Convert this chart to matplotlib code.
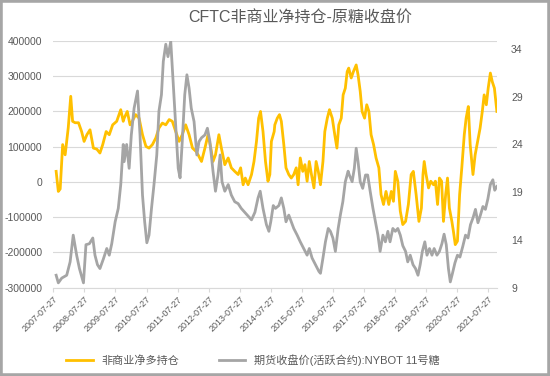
import matplotlib
matplotlib.use("Agg")
import matplotlib.pyplot as plt
from matplotlib.patches import Rectangle

plt.rcParams['font.family'] = ['Liberation Sans', 'Noto Sans CJK SC', 'DejaVu Sans']

# CFTC non-commercial net long (thousand contracts), x in decimal years
pos_t = [2007.66, 2007.73, 2007.79, 2007.87, 2007.95, 2008.00, 2008.05, 2008.13, 2008.19, 2008.27,
         2008.38, 2008.48, 2008.56, 2008.65, 2008.75, 2008.86, 2008.97, 2009.07, 2009.16, 2009.27,
         2009.37, 2009.48, 2009.61, 2009.74, 2009.82, 2009.85, 2009.95, 2010.04, 2010.11, 2010.22,
         2010.33, 2010.44, 2010.55, 2010.65, 2010.76, 2010.87, 2010.97, 2011.08, 2011.19, 2011.30,
         2011.40, 2011.51, 2011.62, 2011.72, 2011.83, 2011.94, 2012.05, 2012.16, 2012.23, 2012.34,
         2012.45, 2012.55, 2012.64, 2012.71, 2012.79, 2012.90, 2012.98, 2013.09, 2013.20, 2013.30,
         2013.41, 2013.52, 2013.60, 2013.68, 2013.75, 2013.84, 2013.95, 2014.03, 2014.11, 2014.18,
         2014.24, 2014.32, 2014.40, 2014.48, 2014.54, 2014.59, 2014.68, 2014.70, 2014.78, 2014.85,
         2014.91, 2014.99, 2015.06, 2015.15, 2015.23, 2015.31, 2015.39, 2015.45, 2015.52, 2015.60,
         2015.67, 2015.74, 2015.81, 2015.88, 2015.96, 2016.03, 2016.10, 2016.17, 2016.25, 2016.31,
         2016.39, 2016.46, 2016.55, 2016.63, 2016.70, 2016.76, 2016.84, 2016.90, 2016.97, 2017.03,
         2017.08, 2017.16, 2017.23, 2017.32, 2017.38, 2017.45, 2017.51, 2017.59, 2017.66, 2017.73,
         2017.80, 2017.88, 2017.96, 2018.05, 2018.12, 2018.20, 2018.28, 2018.37, 2018.45, 2018.52,
         2018.58, 2018.66, 2018.74, 2018.82, 2018.91, 2019.00, 2019.09, 2019.16, 2019.25, 2019.34,
         2019.42, 2019.47, 2019.51, 2019.57, 2019.65, 2019.72, 2019.81, 2019.87, 2019.94, 2020.00,
         2020.07, 2020.13, 2020.20, 2020.26, 2020.32, 2020.40, 2020.45, 2020.51, 2020.58, 2020.65,
         2020.72, 2020.80, 2020.86, 2020.93, 2020.99, 2021.08, 2021.15, 2021.23, 2021.31, 2021.38,
         2021.44, 2021.51, 2021.57, 2021.64, 2021.70, 2021.77, 2021.85]
net_long = [30, -27, -20, 106, 77, 115, 154, 243, 172, 168,
            168, 143, 115, 134, 148, 96, 93, 82, 106, 143,
            134, 162, 172, 205, 172, 181, 200, 162, 172, 191,
            181, 134, 101, 96, 106, 125, 153, 167, 162, 177,
            172, 143, 115, 134, 162, 134, 96, 87, 77, 58,
            96, 134, 96, 58, 77, 134, 96, 49, 68, 40,
            30, 21, 40, -8, 11, -8, 21, 58, 115, 181,
            200, 143, 58, 2, 21, 115, 143, 162, 181, 191,
            172, 106, 40, 21, 11, 21, 40, -8, 68, 30,
            49, 2, 58, 21, -17, 58, 30, -8, 58, 143,
            181, 205, 181, 134, 96, 162, 181, 247, 266, 313,
            323, 295, 313, 332, 304, 257, 200, 181, 219, 200,
            134, 106, 68, 40, -36, -64, -27, -64, -27, -55,
            30, 2, -83, -121, -112, -64, 21, 30, -36, -112,
            -74, 21, 58, 21, -17, 2, -8, 2, -64, 11,
            2, -112, -36, 11, -74, -112, -140, -178, -168, -36,
            40, 134, 181, 214, 106, 21, 77, 115, 153, 200,
            247, 219, 266, 309, 285, 266, 200]

# NYBOT No.11 sugar, front-month close (cents/lb)
px_t = [2007.66, 2007.73, 2007.84, 2008.00, 2008.11, 2008.21, 2008.32, 2008.41, 2008.54, 2008.62,
        2008.73, 2008.84, 2008.91, 2008.99, 2009.07, 2009.18, 2009.29, 2009.37, 2009.45, 2009.56,
        2009.66, 2009.74, 2009.82, 2009.85, 2009.93, 2010.01, 2010.08, 2010.17, 2010.28, 2010.36,
        2010.44, 2010.51, 2010.58, 2010.65, 2010.73, 2010.81, 2010.90, 2010.97, 2011.05, 2011.11,
        2011.19, 2011.26, 2011.35, 2011.43, 2011.51, 2011.59, 2011.65, 2011.72, 2011.80, 2011.87,
        2011.94, 2012.01, 2012.10, 2012.19, 2012.26, 2012.34, 2012.45, 2012.53, 2012.61, 2012.71,
        2012.79, 2012.87, 2012.94, 2013.00, 2013.09, 2013.20, 2013.30, 2013.41, 2013.52, 2013.62,
        2013.73, 2013.84, 2013.95, 2014.06, 2014.16, 2014.23, 2014.32, 2014.43, 2014.51, 2014.57,
        2014.65, 2014.72, 2014.83, 2014.91, 2014.99, 2015.06, 2015.15, 2015.23, 2015.31, 2015.42,
        2015.52, 2015.63, 2015.74, 2015.81, 2015.90, 2016.01, 2016.12, 2016.17, 2016.25, 2016.33,
        2016.42, 2016.49, 2016.57, 2016.65, 2016.74, 2016.81, 2016.89, 2016.97, 2017.06, 2017.10,
        2017.19, 2017.26, 2017.32, 2017.38, 2017.45, 2017.53, 2017.62, 2017.69, 2017.77, 2017.86,
        2017.94, 2018.02, 2018.09, 2018.18, 2018.26, 2018.34, 2018.41, 2018.50, 2018.58, 2018.66,
        2018.74, 2018.82, 2018.91, 2018.98, 2019.06, 2019.15, 2019.23, 2019.31, 2019.38, 2019.45,
        2019.53, 2019.60, 2019.68, 2019.76, 2019.83, 2019.92, 2020.00, 2020.08, 2020.15, 2020.22,
        2020.29, 2020.35, 2020.42, 2020.50, 2020.58, 2020.66, 2020.75, 2020.84, 2020.92, 2021.00,
        2021.08, 2021.16, 2021.24, 2021.32, 2021.40, 2021.48, 2021.56, 2021.64, 2021.72, 2021.78,
        2021.85]
price = [10.3, 9.5, 10.0, 10.3, 11.7, 14.5, 12.4, 11.0, 9.5, 13.5,
         13.6, 14.2, 12.4, 11.4, 11.0, 12.0, 13.1, 12.4, 13.6, 15.9,
         17.3, 19.8, 24.0, 22.2, 24.0, 21.5, 25.0, 27.8, 29.6, 25.0,
         18.7, 15.9, 13.7, 14.5, 17.3, 19.8, 22.9, 27.5, 29.2, 32.7,
         34.5, 33.2, 34.8, 30.3, 25.7, 21.5, 20.5, 24.3, 29.2, 31.3,
         29.9, 27.8, 26.4, 22.9, 24.3, 24.7, 25.0, 25.7, 24.3, 21.2,
         19.1, 20.8, 22.9, 20.1, 19.1, 19.8, 18.7, 18.0, 17.8, 17.3,
         16.9, 16.5, 16.1, 16.9, 18.4, 19.1, 17.3, 15.6, 14.9, 15.9,
         17.6, 17.3, 17.6, 18.4, 17.3, 15.9, 16.6, 15.9, 15.2, 14.5,
         13.8, 13.1, 12.4, 13.1, 12.1, 11.4, 10.7, 10.5, 12.1, 13.8,
         15.2, 14.9, 14.2, 12.8, 15.2, 16.6, 18.0, 20.1, 21.2, 20.8,
         20.1, 21.5, 23.6, 22.2, 20.1, 19.4, 20.8, 20.8, 19.1, 17.3,
         15.9, 14.5, 12.8, 14.5, 13.8, 14.9, 13.8, 15.2, 14.9, 15.2,
         14.5, 13.4, 12.8, 11.7, 12.4, 11.4, 11.0, 10.3, 11.4, 12.8,
         13.8, 12.4, 13.1, 12.4, 13.1, 12.4, 12.8, 13.6, 14.6, 13.5,
         11.0, 9.6, 10.5, 11.6, 12.4, 12.2, 13.3, 14.5, 14.2, 15.6,
         16.3, 17.2, 15.8, 16.6, 17.5, 17.2, 18.3, 19.8, 20.3, 19.2,
         19.6]

years = list(range(2007, 2022))
left_ticks = [-300000, -200000, -100000, 0, 100000, 200000, 300000, 400000]
right_ticks = [9, 14, 19, 24, 29, 34]

fig = plt.figure(figsize=(5.5, 3.76), dpi=100)
ax = fig.add_axes([0.097, 0.235, 0.807, 0.656])
ax2 = ax.twinx()

ax.plot(pos_t, [v * 1000 for v in net_long], color='#FFC000', lw=2.0, label='非商业净多持仓')
ax2.plot(px_t, price, color='#A5A5A5', lw=2.0, label='期货收盘价(活跃合约):NYBOT 11号糖')

ax.set_ylim(-300000, 400000)
ax.set_yticks(left_ticks)
ax.set_yticklabels([str(v) for v in left_ticks])
ax2.set_ylim(9, 34.84)
ax2.set_yticks(right_ticks)

xt = [y + 0.57 for y in years]
ax.set_xlim(2007.57, 2021.86)
ax.set_xticks(xt)
ax.set_xticklabels([f'{y}-07-27' for y in years], rotation=45, ha='right',
                   rotation_mode='anchor', fontsize=6.5, color='#595959')

ax.grid(axis='y', color='#D9D9D9', lw=0.8)
ax.set_axisbelow(True)
for a in (ax, ax2):
    for s in a.spines.values():
        s.set_visible(False)
ax.spines['bottom'].set_visible(True)
ax.spines['bottom'].set_color('#D9D9D9')
ax.tick_params(axis='y', length=0, labelsize=7.5, labelcolor='#595959', pad=8)
ax2.tick_params(axis='y', length=0, labelsize=7.5, labelcolor='#595959', pad=10)
ax.tick_params(axis='x', length=3, color='#D9D9D9', pad=2)

fig.text(0.545, 0.955, 'CFTC非商业净持仓-原糖收盘价', ha='center', va='center',
         fontsize=11.5, color='#595959')

h1, l1 = ax.get_legend_handles_labels()
h2, l2 = ax2.get_legend_handles_labels()
fig.legend(h1 + h2, l1 + l2, loc='center', bbox_to_anchor=(0.46, 0.043), ncol=2,
           frameon=False, fontsize=8, handlelength=2.4, columnspacing=3.5,
           labelcolor='#595959')

fig.patches.append(Rectangle((0, 0), 1, 1, transform=fig.transFigure, fill=False,
                             edgecolor='#A6A6A6', lw=4))

fig.savefig('out.png', dpi=100)
